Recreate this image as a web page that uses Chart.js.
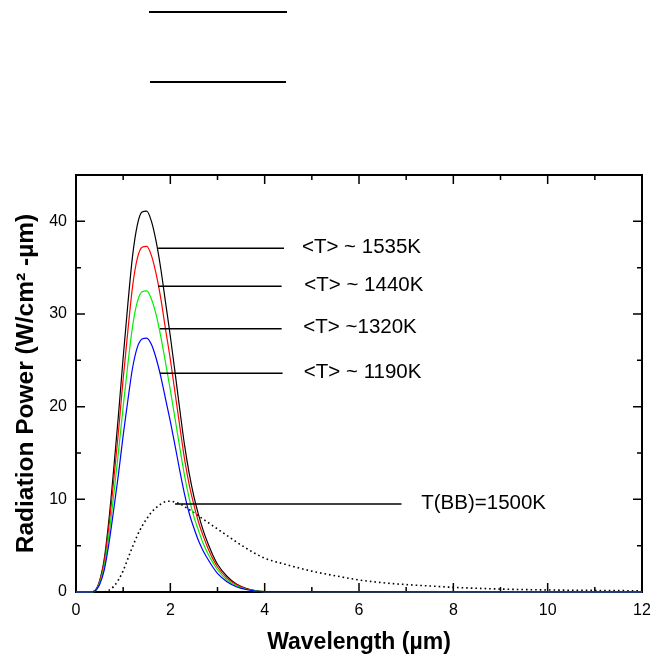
<!DOCTYPE html>
<html>
<head>
<meta charset="utf-8">
<script src="https://cdn.jsdelivr.net/npm/chart.js@4.4.1/dist/chart.umd.min.js"></script>
<style>
  html, body { margin: 0; padding: 0; background: #fff; }
  #wrap { position: relative; width: 652px; height: 661px; }
</style>
</head>
<body>
<div id="wrap"><canvas id="chart"></canvas></div>
<script>
// Wavelength grid (um) for the measured curves
const waveLengths = [0, 0.3, 0.4, 0.5, 0.6, 0.7, 0.8, 0.9, 1.0, 1.1, 1.2, 1.3, 1.4, 1.5, 1.6, 1.7, 1.8, 1.9, 2.0,
    2.1, 2.2, 2.3, 2.4, 2.5, 2.6, 2.7, 2.8, 2.9, 3.0, 3.2, 3.4, 3.6, 3.8, 4.0, 12];

const power1535 = [0, 0, 0.15, 1.2, 3.6, 7.9, 13.3, 19.1, 25.3, 31.1, 36.3, 39.6, 41.0, 41.1, 40.0, 37.8, 34.8, 31.2, 27.6,
    23.7, 19.7, 15.9, 12.8, 10.3, 8.3, 6.6, 5.2, 4.0, 3.0, 1.7, 0.85, 0.4, 0.15, 0.05, 0];
const power1440 = [0, 0, 0.13, 1.1, 3.3, 7.2, 12.1, 17.3, 23.0, 28.2, 33.0, 36.0, 37.2, 37.3, 36.3, 34.3, 31.6, 28.3, 25.1,
    21.5, 17.9, 14.4, 11.6, 9.4, 7.5, 6.0, 4.7, 3.6, 2.7, 1.5, 0.8, 0.35, 0.13, 0.05, 0];
const power1320 = [0, 0, 0.12, 0.95, 2.8, 6.2, 10.5, 15.1, 20.0, 24.6, 28.7, 31.3, 32.4, 32.5, 31.6, 29.9, 27.5, 24.7, 21.8,
    18.7, 15.6, 12.6, 10.1, 8.1, 6.6, 5.2, 4.1, 3.2, 2.4, 1.3, 0.67, 0.3, 0.12, 0.04, 0];
const power1190 = [0, 0, 0.1, 0.8, 2.4, 5.3, 8.9, 12.7, 16.9, 20.7, 24.2, 26.4, 27.3, 27.4, 26.7, 25.2, 23.2, 20.8, 18.4,
    15.8, 13.1, 10.6, 8.5, 6.9, 5.5, 4.4, 3.5, 2.7, 2.0, 1.1, 0.57, 0.27, 0.1, 0.03, 0];

// Blackbody reference curve
const bbWaveLengths = [0.6, 0.7, 0.8, 0.9, 1.0, 1.1, 1.2, 1.3, 1.4, 1.5, 1.6, 1.7, 1.8, 1.9, 2.0, 2.2, 2.4, 2.6, 2.8,
    3.0, 3.2, 3.4, 3.6, 3.8, 4.0, 4.5, 5.0, 5.5, 6.0, 6.5, 7.0, 7.5, 8.0, 9.0, 10, 11, 12];
const bbPower = [0, 0.2, 0.6, 1.3, 2.3, 3.6, 4.9, 6.1, 7.1, 7.9, 8.6, 9.1, 9.5, 9.75, 9.8, 9.5, 8.9, 8.2, 7.5,
    6.8, 6.1, 5.4, 4.75, 4.15, 3.65, 2.9, 2.25, 1.75, 1.3, 1.0, 0.8, 0.65, 0.5, 0.32, 0.22, 0.17, 0.13];

// Axis ticks
const xMajorTicks = [0, 2, 4, 6, 8, 10, 12];
const xMinorTicks = [1, 3, 5, 7, 9, 11];
const yMajorTicks = [0, 10, 20, 30, 40];
const yMinorTicks = [5, 15, 25, 35];

// Callout labels: text, level of the leader line, line start/end and text start (data units)
const calloutText = ['<T> ~ 1535K', '<T> ~ 1440K', '<T> ~1320K', '<T> ~ 1190K', 'T(BB)=1500K'];
const calloutY = [37.1, 33.0, 28.4, 23.6, 9.5];
const calloutX0 = [1.74, 1.74, 1.78, 1.78, 2.10];
const calloutX1 = [4.41, 4.36, 4.36, 4.38, 6.90];
const calloutTextX = [4.79, 4.84, 4.82, 4.83, 7.32];

const FONT = "'Liberation Sans', Arial, sans-serif";

const toPoints = (xs, ys) => xs.map((x, i) => ({ x: x, y: ys[i] }));

const frameTicks = {
    id: 'frameTicks',
    beforeDatasetsDraw(chart) {
        const { ctx, chartArea: a, scales: { x, y } } = chart;
        ctx.save();
        ctx.strokeStyle = '#000';
        ctx.lineWidth = 2;
        ctx.strokeRect(a.left, a.top, a.right - a.left, a.bottom - a.top);
        ctx.lineWidth = 1.5;
        ctx.beginPath();
        const xt = (v, len) => {
            const px = x.getPixelForValue(v);
            ctx.moveTo(px, a.bottom); ctx.lineTo(px, a.bottom - len);
            ctx.moveTo(px, a.top); ctx.lineTo(px, a.top + len);
        };
        const yt = (v, len) => {
            const py = y.getPixelForValue(v);
            ctx.moveTo(a.left, py); ctx.lineTo(a.left + len, py);
            ctx.moveTo(a.right, py); ctx.lineTo(a.right - len, py);
        };
        xMajorTicks.forEach(v => xt(v, 9));
        xMinorTicks.forEach(v => xt(v, 5));
        yMajorTicks.forEach(v => yt(v, 9));
        yMinorTicks.forEach(v => yt(v, 5));
        ctx.stroke();
        ctx.restore();
    }
};

const callouts = {
    id: 'callouts',
    afterDatasetsDraw(chart) {
        const { ctx, scales: { x, y } } = chart;
        ctx.save();
        ctx.strokeStyle = '#000';
        ctx.lineWidth = 1.5;
        ctx.fillStyle = '#000';
        ctx.font = '20.5px ' + FONT;
        ctx.textBaseline = 'middle';
        calloutText.forEach((t, i) => {
            const py = y.getPixelForValue(calloutY[i]);
            ctx.beginPath();
            ctx.moveTo(x.getPixelForValue(calloutX0[i]), py);
            ctx.lineTo(x.getPixelForValue(calloutX1[i]), py);
            ctx.stroke();
            ctx.fillText(t, x.getPixelForValue(calloutTextX[i]), py - 1);
        });
        ctx.restore();
    },
    afterDraw(chart) {
        // empty legend strokes above the plot
        const ctx = chart.ctx;
        ctx.save();
        ctx.strokeStyle = '#000';
        ctx.lineWidth = 2;
        ctx.beginPath();
        ctx.moveTo(149, 12); ctx.lineTo(287, 12);
        ctx.moveTo(150, 82); ctx.lineTo(286, 82);
        ctx.stroke();
        ctx.restore();
    }
};

const lineStyle = { pointRadius: 0, borderWidth: 1.2, fill: false, cubicInterpolationMode: 'monotone', clip: false };

new Chart(document.getElementById('chart').getContext('2d'), {
    type: 'line',
    data: {
        datasets: [
            { ...lineStyle, label: '1190K', data: toPoints(waveLengths, power1190), borderColor: '#0000ff', order: 0 },
            { ...lineStyle, label: '1320K', data: toPoints(waveLengths, power1320), borderColor: '#00ee00', order: 1 },
            { ...lineStyle, label: '1440K', data: toPoints(waveLengths, power1440), borderColor: '#ff0000', order: 2 },
            { ...lineStyle, label: '1535K', data: toPoints(waveLengths, power1535), borderColor: '#000000', order: 3 },
            { ...lineStyle, label: 'BB 1500K', data: toPoints(bbWaveLengths, bbPower), borderColor: '#000000',
              borderWidth: 1.6, borderDash: [1.6, 3], order: 4 }
        ]
    },
    options: {
        responsive: true,
        maintainAspectRatio: false,
        animation: false,
        layout: { padding: { top: 175, right: 10, left: 0, bottom: 0 } },
        plugins: {
            legend: { display: false },
            tooltip: { enabled: false }
        },
        scales: {
            x: {
                type: 'linear',
                min: 0,
                max: 12,
                grid: { display: false, drawTicks: false },
                border: { display: false },
                afterBuildTicks: s => { s.ticks = xMajorTicks.map(v => ({ value: v })); },
                afterFit: s => { s.height = 69; s.paddingLeft = 0; s.paddingRight = 0; },
                ticks: { color: '#000', font: { family: FONT, size: 16 }, padding: 9, maxRotation: 0, autoSkip: false },
                title: { display: true, text: 'Wavelength (\u00b5m)', color: '#000',
                         font: { family: FONT, size: 23, weight: 'bold' }, padding: { top: 0, bottom: 5 } }
            },
            y: {
                type: 'linear',
                min: 0,
                max: 45,
                grid: { display: false, drawTicks: false },
                border: { display: false },
                afterBuildTicks: s => { s.ticks = yMajorTicks.map(v => ({ value: v })); },
                afterFit: s => { s.width = 76; s.paddingTop = 0; s.paddingBottom = 0; },
                ticks: { color: '#000', font: { family: FONT, size: 16 }, padding: 9 },
                title: { display: true, text: 'Radiation Power (W/cm\u00b2 -\u00b5m)', color: '#000',
                         font: { family: FONT, size: 24.5, weight: 'bold' }, padding: { top: 12, bottom: 0 } }
            }
        }
    },
    plugins: [frameTicks, callouts]
});
</script>
</body>
</html>
